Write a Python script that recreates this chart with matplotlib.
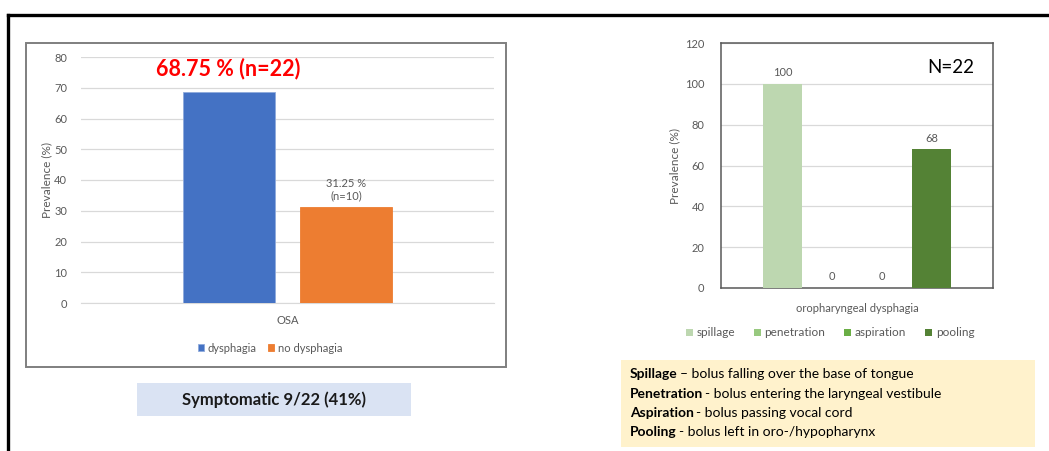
import matplotlib.pyplot as plt
from matplotlib.patches import Rectangle

plt.rcParams['font.family'] = ['Lato', 'DejaVu Sans']

W, H = 1049, 451

# OSA prevalence of dysphagia
osa_groups = ['dysphagia', 'no dysphagia']
osa_values = [68.75, 31.25]
osa_labels = ['68.75 % (n=22)', '31.25 %\n(n=10)']
osa_colors = ['#4472C4', '#ED7D31']

# findings in oropharyngeal dysphagia
finding_groups = ['spillage', 'penetration', 'aspiration', 'pooling']
finding_values = [100, 0, 0, 68]
finding_colors = ['#BDD7B0', '#98C97F', '#6AAE45', '#548235']

definitions = [
    ('Spillage', '– bolus falling over the base of tongue'),
    ('Penetration', '- bolus entering the laryngeal vestibule'),
    ('Aspiration', '- bolus passing vocal cord'),
    ('Pooling', '- bolus left in oro-/hypopharynx'),
]

GRAY = '#595959'
GRID = '#D9D9D9'


def box(x0, y0, x1, y1):
    # pixel box (top-left origin) -> figure fraction rect
    return [x0 / W, 1 - y1 / H, (x1 - x0) / W, (y1 - y0) / H]


def fx(x):
    return x / W


def fy(y):
    return 1 - y / H


fig = plt.figure(figsize=(W / 100, H / 100), dpi=100)

# outer slide frame
fig.add_artist(plt.Line2D([fx(8), 1.0], [fy(15), fy(15)], color='black', lw=2.4))
fig.add_artist(plt.Line2D([fx(8), fx(8)], [fy(15), 0.0], color='black', lw=2.4))

# frame around the left chart
fig.add_artist(Rectangle((fx(26), fy(367)), (506 - 26) / W, (367 - 43) / H,
                         transform=fig.transFigure, fill=False,
                         edgecolor='#7F7F7F', lw=1.4))

# ---- left chart ----
ax1 = fig.add_axes(box(81, 57, 494, 303))
offsets = [-0.285, 0.285]
bars1 = []
for off, val, col, name in zip(offsets, osa_values, osa_colors, osa_groups):
    b = ax1.bar(off, val, width=0.445, color=col, edgecolor='#8FAADC' if col == '#4472C4' else col,
                lw=0.6, label=name, zorder=3)
    bars1.append(b)
ax1.bar_label(bars1[0], labels=[osa_labels[0]], padding=9, color='#FF0000',
              fontsize=15.5, fontweight='bold')
ax1.bar_label(bars1[1], labels=[osa_labels[1]], padding=4, color=GRAY, fontsize=8)
ax1.set_xlim(-1, 1)
ax1.set_ylim(0, 80)
ax1.set_yticks(range(0, 81, 10))
ax1.set_xticks([0])
ax1.set_xticklabels(['OSA'])
ax1.tick_params(axis='both', length=0, labelsize=8, labelcolor=GRAY)
ax1.tick_params(axis='y', pad=10)
ax1.tick_params(axis='x', pad=9)
ax1.grid(axis='y', color=GRID, lw=0.9, zorder=0)
for s in ['top', 'right', 'left']:
    ax1.spines[s].set_visible(False)
ax1.spines['bottom'].set_color(GRID)
ax1.set_ylabel('Prevalence (%)', fontsize=8.5, color=GRAY, labelpad=1)
fig.legend(handles=[b[0] for b in bars1], labels=osa_groups, loc='center',
           bbox_to_anchor=(fx(270), fy(348)), ncol=2, frameon=False,
           fontsize=8, labelcolor=GRAY, handlelength=0.6, handleheight=0.6,
           handletextpad=0.3, columnspacing=1.0)

# symptomatic box
fig.add_artist(Rectangle((fx(137), fy(416)), (411 - 137) / W, (416 - 383) / H,
                         transform=fig.transFigure, facecolor='#DAE3F3',
                         edgecolor='none'))
fig.text(fx(274), fy(400), 'Symptomatic 9/22 (41%)', ha='center', va='center',
         fontsize=12, fontweight='bold', color='#1a1a1a')

# ---- right chart ----
ax2 = fig.add_axes(box(721, 43, 993, 288))
bars2 = []
for i, (val, col, name) in enumerate(zip(finding_values, finding_colors, finding_groups)):
    b = ax2.bar((i - 1.5) * 0.366, val, width=0.29, color=col, label=name, zorder=3)
    ax2.bar_label(b, padding=4, color=GRAY, fontsize=8)
    bars2.append(b)
ax2.set_xlim(-1, 1)
ax2.set_ylim(0, 120)
ax2.set_yticks(range(0, 121, 20))
ax2.set_xticks([0])
ax2.set_xticklabels(['oropharyngeal dysphagia'])
ax2.tick_params(axis='both', length=0, labelsize=8, labelcolor=GRAY)
ax2.tick_params(axis='y', pad=12)
ax2.tick_params(axis='x', pad=11)
ax2.grid(axis='y', color=GRID, lw=0.9, zorder=0)
for s in ax2.spines.values():
    s.set_color('#595959')
    s.set_linewidth(1.1)
ax2.set_ylabel('Prevalence (%)', fontsize=8.5, color=GRAY, labelpad=3)
ax2.text(0.93, 0.9, 'N=22', transform=ax2.transAxes, ha='right', va='center',
         fontsize=13.5, color='black')
fig.legend(handles=[b[0] for b in bars2], labels=finding_groups, loc='center',
           bbox_to_anchor=(fx(830), fy(333)), ncol=4, frameon=False,
           fontsize=8.5, labelcolor=GRAY, handlelength=0.6, handleheight=0.6,
           handletextpad=0.3, columnspacing=1.6)

# definitions box
fig.add_artist(Rectangle((fx(621), fy(447)), (1035 - 621) / W, (447 - 360) / H,
                         transform=fig.transFigure, facecolor='#FFF2CC',
                         edgecolor='none'))
for k, (term, desc) in enumerate(definitions):
    t = fig.text(fx(630), fy(374 + k * 19.5), term, ha='left', va='center',
                 fontsize=10, fontweight='bold', color='black')
    fig.add_artist(plt.Annotation(desc, xy=(1, 0), xycoords=t,
                                  xytext=(1.5, 0), textcoords='offset points',
                                  va='bottom', ha='left', fontsize=10,
                                  color='black'))

fig.savefig('out.png', dpi=100)
